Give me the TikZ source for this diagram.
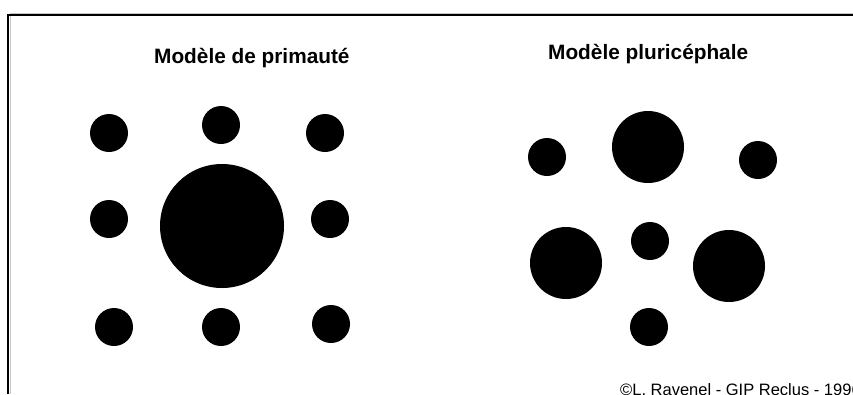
\documentclass[tikz,border=0pt]{standalone}
\usepackage{fontspec}
\setmainfont{Liberation Sans}
\begin{document}
\begin{tikzpicture}[x=1pt,y=-1pt,
  dot/.style={circle,fill=black,inner sep=0pt,minimum size=#1},
  dot/.default=38pt,
  title/.style={anchor=base west,inner sep=0pt,font=\fontsize{20.8}{24}\selectfont\bfseries},
  credit/.style={anchor=base west,inner sep=0pt,font=\fontsize{16.5}{19}\selectfont}]
\useasboundingbox (0,0) rectangle (853,394);
% frame
\coordinate (fl) at (8,394);
\coordinate (fc) at (8,15);
\coordinate (fr) at (853,15);
\draw[gray!45,line width=1pt] ([xshift=2pt]fl) -- ([shift={(2pt,2pt)}]fc) -- ([yshift=2pt]fr);
\draw[line width=1.6pt] (fl) -- (fc) -- (fr);
% titles
\node[title] (t1) at (154,63) {Modèle de primauté};
\node[title] (t2) at (548,59) {Modèle pluricéphale};
% left model
\node[dot] (a1) at (109,133) {};
\node[dot] (a2) at (221,125) {};
\node[dot] (a3) at (325,133) {};
\node[dot] (a4) at (109,219) {};
\node[dot=124pt] (a0) at (222,226) {};
\node[dot] (a5) at (330,219) {};
\node[dot] (a6) at (114,327) {};
\node[dot] (a7) at (221,327) {};
\node[dot] (a8) at (331,324) {};
% right model
\node[dot] (b1) at (547,157) {};
\node[dot=72pt] (b2) at (648,147) {};
\node[dot] (b3) at (758,160) {};
\node[dot=72pt] (b4) at (566,263) {};
\node[dot] (b5) at (650,241) {};
\node[dot=72pt] (b6) at (729,266) {};
\node[dot] (b7) at (649,327) {};
% credit
\node[credit] (cr) at (620,395) {©L. Ravenel - GIP Reclus - 1996};
\end{tikzpicture}
\end{document}
